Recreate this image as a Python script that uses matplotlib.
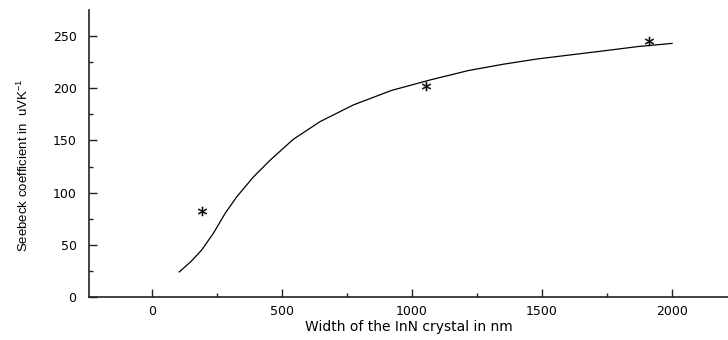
import matplotlib
matplotlib.use('Agg')
import matplotlib.pyplot as plt

# measured points (asterisks)
width_pts = [191, 1052, 1910]
seebeck_pts = [82, 202, 245]

# fitted curve
width_fit = [105, 150, 191, 236, 281, 326, 390, 454, 543, 646, 774,
             922, 1070, 1217, 1350, 1479, 1610, 1742, 1870, 2000]
seebeck_fit = [24, 34, 45, 61, 80, 96, 115, 131, 151, 168, 184,
               198, 208, 217, 223, 228, 232, 236, 240, 243]

x_ticks = [0, 500, 1000, 1500, 2000]
y_ticks = [0, 50, 100, 150, 200, 250]

plt.rcParams['font.family'] = ['DejaVu Sans']

fig = plt.figure(figsize=(7.28, 3.40), dpi=100)
ax = fig.add_axes([0.1223, 0.1265, 0.8777, 0.8441])

ax.plot(width_fit, seebeck_fit, color='black', lw=0.9)
ax.plot(width_pts, seebeck_pts, ls='none', marker='$*$',
        color='black', markersize=6.5, markeredgewidth=0.3)

ax.set_xlim(-242, 2215)
ax.set_ylim(0, 275)
ax.set_xticks(x_ticks)
ax.set_yticks(y_ticks)
ax.set_xticks([250, 750, 1250, 1750], minor=True)
ax.set_yticks([25, 75, 125, 175, 225], minor=True)
ax.tick_params('both', which='major', direction='in', length=6,
               width=1, labelsize=9, color='#222222')
ax.tick_params('both', which='minor', direction='in', length=3,
               width=1, color='#222222')
ax.tick_params('y', pad=9)
ax.tick_params('x', pad=6)

for s in ['top', 'right']:
    ax.spines[s].set_visible(False)
for s in ['left', 'bottom']:
    ax.spines[s].set_linewidth(1.2)
    ax.spines[s].set_color('#222222')

ax.text(0.5, -0.105, 'Width of the InN crystal in nm', fontsize=10,
        ha='center', va='center', transform=ax.transAxes)
ax.text(-0.102, 0.46, r'Seebeck coefficient in  uVK$^{\mathregular{-1}}$',
        fontsize=9.5, ha='center', va='center', rotation=90,
        family='Liberation Sans', transform=ax.transAxes)

fig.savefig('out.png', dpi=100)
